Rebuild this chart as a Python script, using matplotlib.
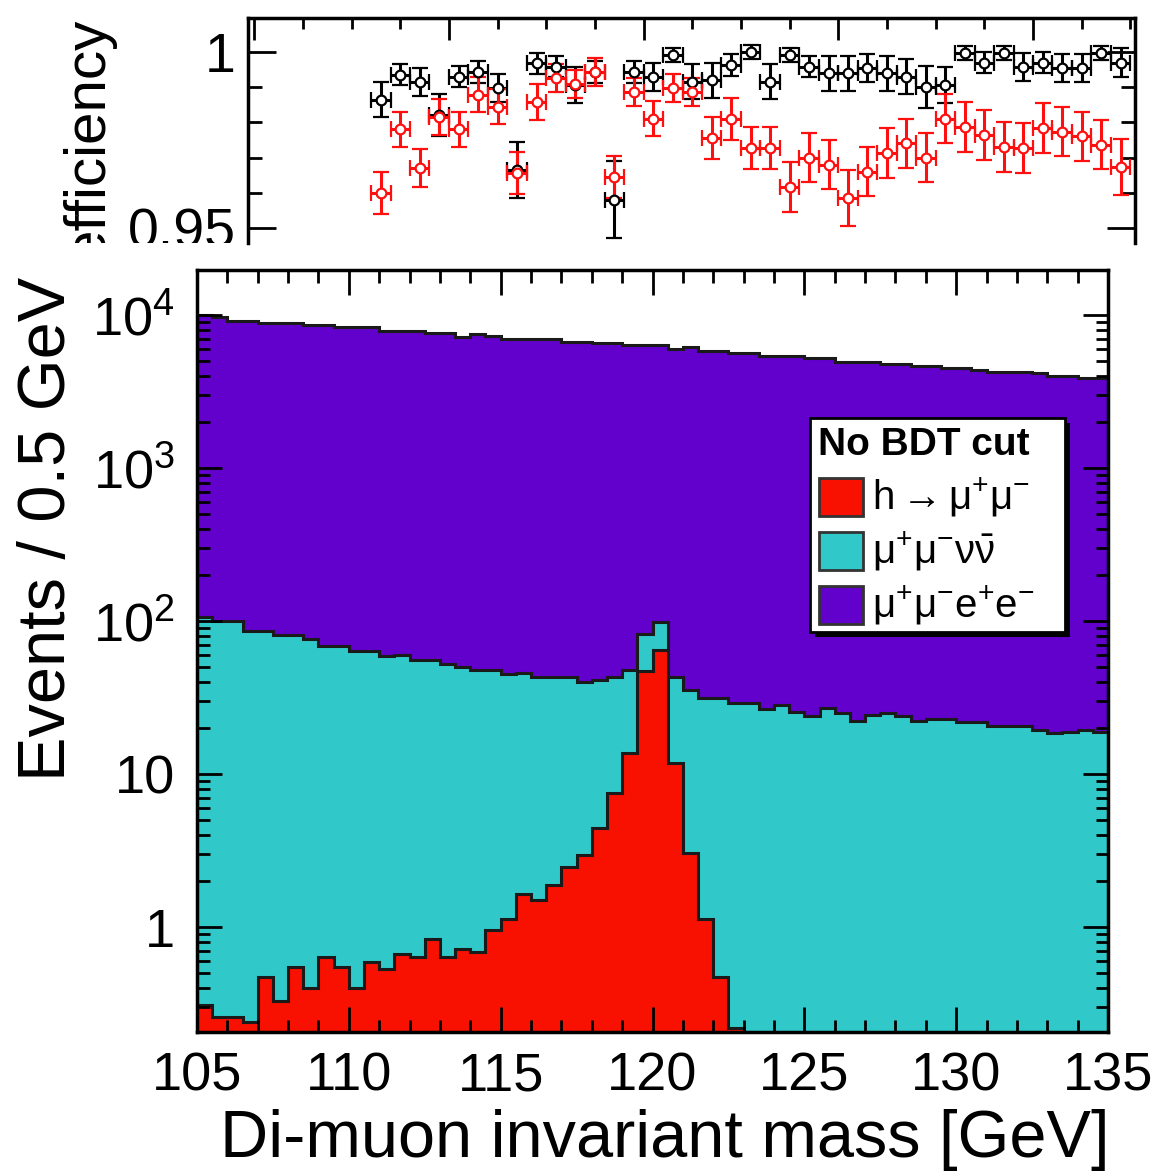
import numpy as np
import matplotlib
matplotlib.use("Agg")
import matplotlib.pyplot as plt
from matplotlib.patches import Rectangle
from matplotlib.ticker import MultipleLocator, LogLocator, NullFormatter
from matplotlib.transforms import Bbox, TransformedBbox

plt.rcParams['font.family'] = ['Liberation Sans', 'DejaVu Sans']
plt.rcParams['mathtext.fontset'] = 'custom'
plt.rcParams['mathtext.rm'] = 'Liberation Sans'
plt.rcParams['mathtext.it'] = 'Liberation Sans'
plt.rcParams['mathtext.bf'] = 'Liberation Sans:bold'
plt.rcParams['mathtext.default'] = 'regular'

# --- histogram data: 60 bins of 0.5 GeV, 105-135 GeV ---
edges = np.linspace(105, 135, 61)

sig = [0.31, 0.26, 0.26, 0.24, 0.47, 0.33, 0.55, 0.40, 0.64, 0.55,
       0.40, 0.59, 0.53, 0.67, 0.64, 0.84, 0.64, 0.72, 0.69, 0.95,
       1.13, 1.65, 1.5, 1.88, 2.48, 2.95, 4.42, 7.5, 13.7, 47.0,
       65.0, 11.8, 3.03, 1.13, 0.47, 0.22, 0, 0, 0, 0,
       0, 0, 0, 0, 0, 0, 0, 0, 0, 0,
       0, 0, 0, 0, 0, 0, 0, 0, 0, 0]

nunu = [105.7, 99.7, 99.7, 85.8, 85.5, 80.7, 80.5, 75.6, 68.4, 68.5,
        63.6, 63.4, 58.5, 59.3, 55.4, 55.2, 51.4, 49.3, 47.3, 47.1,
        43.9, 44.4, 41.5, 41.1, 40.5, 37.1, 36.6, 35.5, 34.3, 35.0,
        33.0, 31.2, 32.4, 30.1, 30.7, 29.0, 29.2, 26.5, 28.3, 25.5,
        23.9, 26.9, 24.9, 22.2, 24.3, 24.9, 23.9, 22.2, 22.8, 22.8,
        22.0, 22.0, 20.7, 20.7, 20.7, 19.4, 18.5, 18.9, 19.4, 18.7]

ee = [9894, 9560, 9080, 9094, 8824, 8829, 8829, 8524, 8531, 8321,
      8326, 8326, 7801, 7800, 7804, 7604, 7608, 7160, 7462, 7242,
      6895, 6894, 6897, 6897, 6647, 6650, 6489, 6487, 6292, 6258,
      6242, 5927, 6175, 5819, 5819, 5591, 5591, 5394, 5392, 5395,
      5186, 5183, 4925, 4928, 4926, 4755, 4756, 4618, 4617, 4457,
      4458, 4348, 4239, 4239, 4239, 4131, 3992, 3991, 3841, 3841]

# --- efficiency data (0.5 GeV bins) ---
eff_mass = np.arange(108.25, 127.5, 0.5)

eff_black = [0.9864, 0.9935, 0.9915, 0.982, 0.993, 0.9943, 0.9898, 0.9665, 0.9968, 0.9958,
             0.9906, 0.9943, 0.958, 0.9943, 0.993, 0.9991, 0.9915, 0.992, 0.9963, 1.000,
             0.9915, 0.9991, 0.9958, 0.994, 0.994, 0.9955, 0.994, 0.993, 0.990, 0.9906,
             0.9997, 0.997, 0.9997, 0.9958, 0.997, 0.9955, 0.9955, 0.9997, 0.997]
err_black = [0.005, 0.003, 0.004, 0.006, 0.003, 0.003, 0.004, 0.008, 0.003, 0.003,
             0.005, 0.003, 0.011, 0.003, 0.004, 0.002, 0.005, 0.005, 0.003, 0.002,
             0.005, 0.002, 0.003, 0.005, 0.005, 0.004, 0.005, 0.005, 0.006, 0.005,
             0.002, 0.003, 0.002, 0.004, 0.003, 0.004, 0.004, 0.002, 0.004]

eff_red = [0.960, 0.978, 0.967, 0.9815, 0.978, 0.9878, 0.9844, 0.9656, 0.9858, 0.9926,
           0.991, 0.9943, 0.9645, 0.9886, 0.981, 0.9898, 0.9886, 0.9755, 0.981, 0.9727,
           0.9727, 0.9616, 0.970, 0.968, 0.9585, 0.966, 0.9713, 0.974, 0.970, 0.981,
           0.9787, 0.9764, 0.973, 0.9727, 0.9784, 0.9773, 0.976, 0.9736, 0.9673]
err_red = [0.006, 0.005, 0.0055, 0.005, 0.005, 0.005, 0.005, 0.006, 0.005, 0.004,
           0.004, 0.004, 0.006, 0.004, 0.005, 0.004, 0.004, 0.006, 0.006, 0.006,
           0.006, 0.007, 0.007, 0.007, 0.008, 0.007, 0.007, 0.007, 0.007, 0.007,
           0.007, 0.007, 0.007, 0.007, 0.007, 0.007, 0.007, 0.007, 0.008]

purple = '#6200cc'
cyan = '#30c8c8'
red = '#f81000'
outline = '#1a1a1a'

W, H = 1165, 1176
fig = plt.figure(figsize=(W / 100, H / 100), dpi=100)

# ---------------- top panel: efficiency ----------------
ax1 = fig.add_axes([248 / W, 1 - 243 / H, 887 / W, 225 / H])
for eff, err, col in [(eff_black, err_black, 'black'), (eff_red, err_red, '#ff1010')]:
    ax1.errorbar(eff_mass, eff, yerr=err, xerr=0.25, fmt='o', color=col,
                 mfc='white', mec=col, ms=7, mew=1.6, elinewidth=2.2, capsize=5.5,
                 capthick=2.2)
ax1.set_xlim(104.84, 127.62)
ax1.set_ylim(0.9457, 1.00966)
ax1.spines['bottom'].set_visible(False)
for s in ['top', 'left', 'right']:
    ax1.spines[s].set_linewidth(2.5)
ax1.xaxis.set_major_locator(MultipleLocator(5))
ax1.xaxis.set_minor_locator(MultipleLocator(1.25))
ax1.set_yticks([0.95, 1.0], labels=['0.95', '1'])
ax1.yaxis.set_minor_locator(MultipleLocator(0.01))
ax1.tick_params(which='both', direction='in', top=True, right=True, bottom=False,
                labelbottom=False, width=2)
ax1.tick_params(axis='x', which='major', length=16)
ax1.tick_params(axis='x', which='minor', length=8)
ax1.tick_params(axis='y', which='major', length=20, labelsize=40, pad=9)
ax1.tick_params(axis='y', which='minor', length=10)

clip = TransformedBbox(Bbox([[0, 1 - 243 / H], [1, 1]]), fig.transFigure)
for lab in ax1.get_yticklabels():
    lab.set_clip_on(True)
    lab.set_clip_box(clip)
t = fig.text(88 / W, 1 - 18 / H, 'efficiency', rotation=90, ha='center', va='top',
             fontsize=42)
t.set_clip_on(True)
t.set_clip_box(clip)

# ---------------- bottom panel: stacked histogram ----------------
ax2 = fig.add_axes([197 / W, 1 - 1032 / H, 911 / W, 762 / H])
cyan_top = np.array(sig) + np.array(nunu)
total = cyan_top + np.array(ee)
sig_draw = np.where(np.array(sig) > 0, sig, 1e-3)
for vals, col in [(total, purple), (cyan_top, cyan), (sig_draw, red)]:
    ax2.stairs(vals, edges, baseline=1e-3, fill=True, color=col)
    ax2.stairs(vals, edges, baseline=None, color=outline, lw=2.2)
ax2.set_yscale('log')
ax2.set_xlim(105, 135)
ax2.set_ylim(0.206, 19700)
for s in ax2.spines.values():
    s.set_linewidth(2.5)
    s.set_zorder(5)
ax2.xaxis.set_major_locator(MultipleLocator(5))
ax2.xaxis.set_minor_locator(MultipleLocator(1))
ax2.set_yticks([1, 10, 100, 1000, 10000],
               labels=['1', '10', r'$10^{2}$', r'$10^{3}$', r'$10^{4}$'])
ax2.yaxis.set_minor_locator(LogLocator(base=10, subs=np.arange(2, 10), numticks=20))
ax2.yaxis.set_minor_formatter(NullFormatter())
ax2.tick_params(which='both', direction='in', top=True, right=True, width=2)
ax2.tick_params(which='major', length=18)
ax2.tick_params(which='minor', length=9)
ax2.tick_params(axis='x', labelsize=39, pad=14)
ax2.tick_params(axis='y', labelsize=39, pad=16)

fig.text(48 / W, 1 - 277 / H, 'Events / 0.5 GeV', rotation=90, ha='center', va='top',
         fontsize=48)
fig.text(1110 / W, 1 - 1140 / H, 'Di-muon invariant mass [GeV]', ha='right',
         va='center', fontsize=48)

# legend box
lx0, ly0, lw_, lh_ = 810, 418, 255, 214
fig.add_artist(Rectangle(((lx0 + 5) / W, 1 - (ly0 + lh_ + 5) / H), lw_ / W, lh_ / H,
                         transform=fig.transFigure, fc='black', ec='none', zorder=6))
fig.add_artist(Rectangle((lx0 / W, 1 - (ly0 + lh_) / H), lw_ / W, lh_ / H,
                         transform=fig.transFigure, fc='white', ec='black', lw=2,
                         zorder=7))
fig.text(818 / W, 1 - 445 / H, 'No BDT cut', fontsize=28, fontweight='bold',
         ha='left', va='center', zorder=8)
entries = [(red, r'h$\rightarrow\mu^{+}\mu^{-}$', 497),
           (cyan, r'$\mu^{+}\mu^{-}\nu\bar{\nu}$', 551),
           (purple, r'$\mu^{+}\mu^{-}e^{+}e^{-}$', 605)]
for col, lab, yc in entries:
    fig.add_artist(Rectangle((819 / W, 1 - (yc + 19) / H), 44 / W, 38 / H,
                             transform=fig.transFigure, fc=col, ec='#333333', lw=2,
                             zorder=8))
    fig.text(872 / W, 1 - yc / H, lab, fontsize=29, ha='left', va='center', zorder=8)

fig.savefig('out.png', dpi=100)
